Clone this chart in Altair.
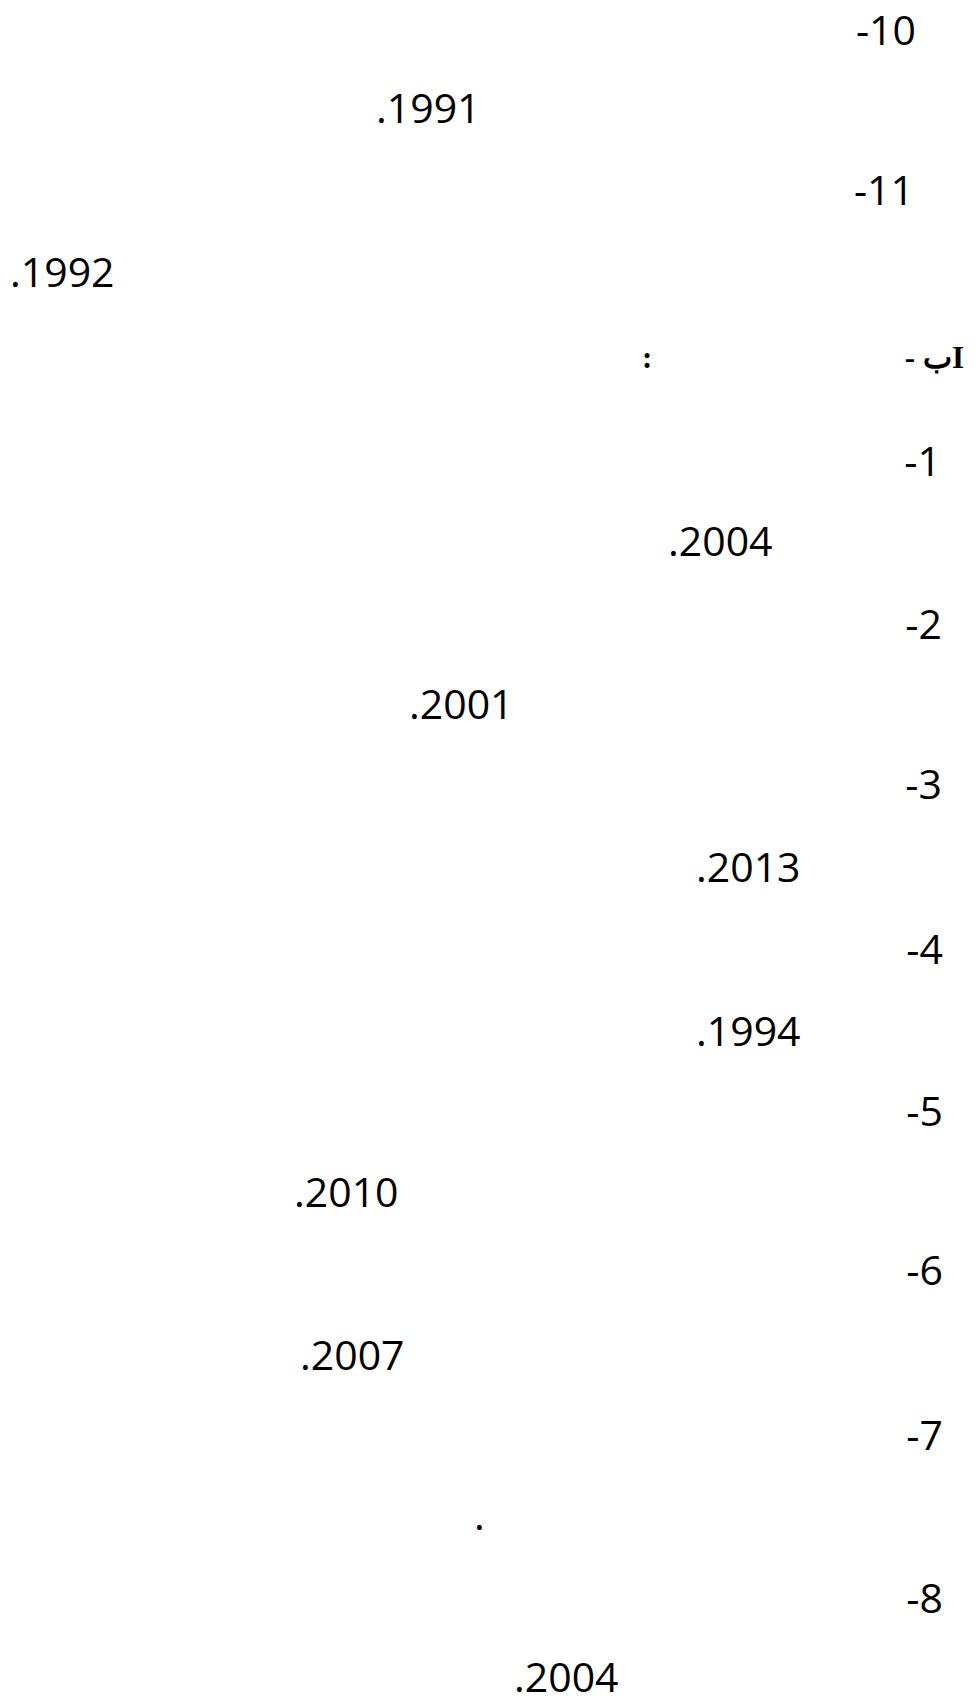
import altair as alt
import pandas as pd

LRO, PDF = "\u202D", "\u202C"

# Years / punctuation lines (left-aligned text)
year_labels = [".1991", ".1992", ".2004", ".2001", ".2013", ".1994", ".2010", ".2007", ".", ".2004"]
year_x = [376, 10, 668, 409, 696, 696, 294, 300, 474, 514]
year_base = [123, 287, 557, 720, 883, 1047, 1208, 1372, 1532, 1694]

# Item numbers (right-aligned)
num_labels = ["-10", "-11", "-1", "-2", "-3", "-4", "-5", "-6", "-7", "-8"]
num_right = [916, 914, 941, 942, 942, 943, 943, 943, 943, 943]
num_base = [45, 205, 477, 640, 800, 965, 1127, 1287, 1452, 1615]

# Heading line (visual order, left to right)
head_labels = ["- بI"]
head_right = [964]
head_base = [368]
colon_labels = [":"]
colon_x = [642]
colon_base = [368]

def wrap(lst):
    return [LRO + s + PDF for s in lst]

years = pd.DataFrame({"t": wrap(year_labels), "x": year_x, "y": year_base})
nums = pd.DataFrame({"t": wrap(num_labels), "x": num_right, "y": num_base})
head = pd.DataFrame({"t": wrap(head_labels), "x": head_right, "y": head_base})
colon = pd.DataFrame({"t": wrap(colon_labels), "x": colon_x, "y": colon_base})

W, H = 961, 1692
xs = alt.Scale(domain=[8, 8 + W], zero=False, nice=False)
ys = alt.Scale(domain=[8 + H, 8], zero=False, nice=False)

def enc(base):
    return base.encode(
        x=alt.X("x:Q", scale=xs, axis=None),
        y=alt.Y("y:Q", scale=ys, axis=None),
        text="t:N",
    )

l1 = enc(alt.Chart(years).mark_text(font="Open Sans", fontSize=41, align="left", baseline="alphabetic", color="black"))
l2 = enc(alt.Chart(nums).mark_text(font="Open Sans", fontSize=41, align="right", baseline="alphabetic", color="black"))
l3 = enc(alt.Chart(head).mark_text(font="Liberation Serif", fontSize=31, fontWeight="bold", align="right", baseline="alphabetic", color="black"))
l4 = enc(alt.Chart(colon).mark_text(font="Liberation Serif", fontSize=31, fontWeight="bold", align="left", baseline="alphabetic", color="black"))

chart = alt.layer(l1, l2, l3, l4).properties(
    width=W, height=H,
    autosize=alt.AutoSizeParams(type="fit", contains="padding"),
    padding=0,
    background="white",
).configure_view(stroke=None)

chart.save("out.html", embed_options={"renderer": "svg", "actions": False})
